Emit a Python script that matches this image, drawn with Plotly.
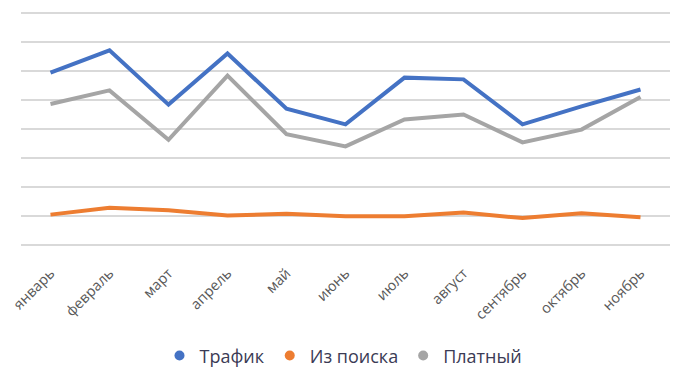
import plotly.graph_objects as go

months = ["январь", "февраль", "март", "апрель", "май", "июнь", "июль",
          "август", "сентябрь", "октябрь", "ноябрь"]
traffic = [5.94, 6.71, 4.84, 6.60, 4.70, 4.16, 5.77, 5.71, 4.16, 4.78, 5.36]
search = [1.05, 1.29, 1.20, 1.02, 1.08, 0.99, 0.99, 1.12, 0.93, 1.10, 0.96]
paid = [4.86, 5.33, 3.63, 5.84, 3.82, 3.40, 4.33, 4.50, 3.54, 3.98, 5.10]

series = [
    ("Трафик", traffic, "#4472C4"),
    ("Из поиска", search, "#ED7D31"),
    ("Платный", paid, "#A5A5A5"),
]

fig = go.Figure()
for name, vals, color in series:
    fig.add_trace(go.Scatter(x=months, y=vals, name=name, mode="lines",
                             line=dict(color=color, width=4), showlegend=False))
for name, vals, color in series:
    fig.add_trace(go.Scatter(x=[None], y=[None], name=name, mode="markers",
                             marker=dict(color=color, size=10, symbol="circle"),
                             showlegend=True))

# page body has an 8px default margin, so the figure is offset by 8px
fig.update_layout(
    width=671, height=359,
    margin=dict(l=13, r=9, t=1.8, b=119.4, autoexpand=False),
    paper_bgcolor="white", plot_bgcolor="white",
    font=dict(family="Open Sans", color="#595959", size=13),
    legend=dict(orientation="h", xref="container", x=0.5, xanchor="center",
                yref="container", y=0.031, yanchor="middle",
                font=dict(size=18, color="#3b3b55"), itemwidth=30,
                tracegroupgap=0),
    xaxis=dict(type="category", range=[-0.5, 10.5], tickangle=-45, showgrid=False,
               showline=False, ticks="", ticklabelstandoff=13, automargin=False,
               tickfont=dict(size=14.5, color="#595959")),
    yaxis=dict(range=[-0.1, 8.1], dtick=1, showticklabels=False, showgrid=True,
               gridcolor="#D9D9D9", gridwidth=1.5, zeroline=False, showline=False,
               automargin=False),
)

fig.write_html("out.html")
